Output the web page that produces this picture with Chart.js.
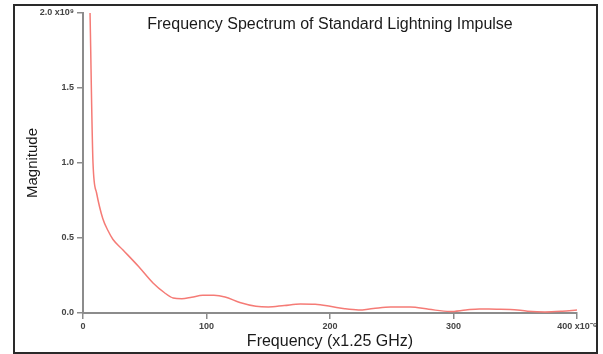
<!DOCTYPE html>
<html>
<head>
<meta charset="utf-8">
<script src="https://cdn.jsdelivr.net/npm/chart.js@4.4.0/dist/chart.umd.min.js"></script>
<style>
  html, body { margin: 0; padding: 0; background: #fff; }
  #wrap { width: 603px; height: 354px; }
</style>
</head>
<body>
<div id="wrap"><canvas id="spectrum" width="603" height="354"></canvas></div>
<script>
// frequency (x1.25 GHz, x1e-6) and magnitude (x1e9)
const freq = [5.7, 8.1, 11, 16, 20.2, 24.3, 32.4, 45, 56.7, 66, 73, 80, 88, 97, 106, 115, 127, 140, 150, 163, 176, 188, 200, 212, 223, 235, 249, 265, 280, 297, 310, 321, 335, 346, 360, 374, 388, 400];
const magnitude = [2.0, 1.0, 0.8, 0.63, 0.55, 0.49, 0.42, 0.31, 0.2, 0.135, 0.1, 0.095, 0.105, 0.118, 0.118, 0.107, 0.07, 0.045, 0.04, 0.05, 0.06, 0.058, 0.045, 0.028, 0.02, 0.03, 0.04, 0.04, 0.025, 0.01, 0.02, 0.027, 0.025, 0.024, 0.012, 0.007, 0.012, 0.02];

const xTicks = [0, 100, 200, 300, 400];
const xTickLabels = ["0", "100", "200", "300", "400 x10\u207B\u2076"];
const yTicks = [0, 0.5, 1.0, 1.5, 2.0];
const yTickLabels = ["0.0", "0.5", "1.0", "1.5", "2.0 x10\u2079"];

const FONT = "'Liberation Sans', Arial, Helvetica, sans-serif";
const axisGrey = "#8c8c8c";

// title sits inside the plot area, and the whole thing has a dark frame
const decor = {
  id: "decor",
  afterDraw(chart) {
    const ctx = chart.ctx;
    const area = chart.chartArea;
    ctx.save();
    ctx.font = "16px " + FONT;
    ctx.fillStyle = "#1a1a1a";
    ctx.textAlign = "center";
    ctx.textBaseline = "middle";
    ctx.fillText("Frequency Spectrum of Standard Lightning Impulse", (area.left + area.right) / 2, 25);
    ctx.strokeStyle = "#2a2a2a";
    ctx.lineWidth = 2;
    ctx.strokeRect(14, 5, 583, 348);
    ctx.restore();
  }
};

const points = freq.map((f, i) => ({ x: f, y: magnitude[i] }));

new Chart(document.getElementById("spectrum"), {
  type: "line",
  data: {
    datasets: [{
      data: points,
      borderColor: "#f57b76",
      borderWidth: 1.5,
      pointRadius: 0,
      cubicInterpolationMode: "monotone",
      fill: false
    }]
  },
  options: {
    responsive: false,
    devicePixelRatio: 1,
    animation: false,
    layout: { padding: { left: 0, right: 26, top: 13, bottom: 0 } },
    plugins: { legend: { display: false }, tooltip: { enabled: false } },
    scales: {
      x: {
        type: "linear",
        min: 0,
        max: 400,
        afterBuildTicks: s => { s.ticks = xTicks.map(v => ({ value: v })); },
        afterFit: s => { s.height = 41; },
        ticks: {
          autoSkip: false,
          maxRotation: 0,
          padding: 2,
          color: "#444",
          font: { family: FONT, size: 9, weight: "bold" },
          callback: v => xTickLabels[xTicks.indexOf(v)]
        },
        grid: { drawOnChartArea: false, drawTicks: true, tickLength: 6, color: axisGrey, lineWidth: 1.5 },
        border: { display: true, color: axisGrey, width: 2 },
        title: {
          display: true,
          text: "Frequency (x1.25 GHz)",
          color: "#1a1a1a",
          font: { family: FONT, size: 16 },
          padding: { top: 0, bottom: 3 }
        }
      },
      y: {
        min: 0,
        max: 2.0,
        afterBuildTicks: s => { s.ticks = yTicks.map(v => ({ value: v })); },
        afterFit: s => { s.width = 83; },
        ticks: {
          padding: 3,
          color: "#444",
          font: { family: FONT, size: 9, weight: "bold" },
          callback: v => yTickLabels[yTicks.indexOf(v)]
        },
        grid: { drawOnChartArea: false, drawTicks: true, tickLength: 6, color: axisGrey, lineWidth: 1.5 },
        border: { display: true, color: axisGrey, width: 2 },
        title: {
          display: true,
          text: "Magnitude",
          color: "#1a1a1a",
          font: { family: FONT, size: 15 },
          padding: { top: 24, bottom: 0 }
        }
      }
    }
  },
  plugins: [decor]
});
</script>
</body>
</html>
